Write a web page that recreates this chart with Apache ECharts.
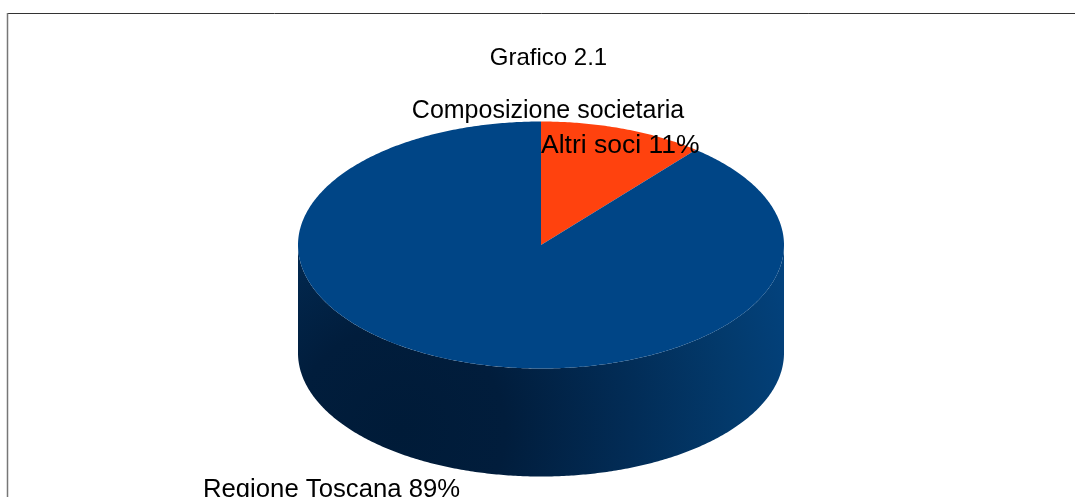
<!DOCTYPE html>
<html>
<head>
<meta charset="utf-8">
<style>html,body{margin:0;padding:0;background:#fff}#c{width:1075px;height:497px}</style>
<script src="https://cdn.jsdelivr.net/npm/echarts@6/dist/echarts.min.js"></script>
</head>
<body>
<div id="c"></div>
<script>
var titleText = "Grafico 2.1";
var subtitleText = "Composizione societaria";
var categories = ["Altri soci", "Regione Toscana"];
var shares = [11, 89];
var colors = ["#ff420e", "#004586"];
var labelAnchors = [[541, 146], [203, 490]];
var labelSizes = [26.5, 25.7];

var cx = 541, cy = 245, rx = 243, ry = 123.5, depth = 108;
var total = shares.reduce(function (a, b) { return a + b; }, 0);

function pt(angle, dy) {
  return [cx + rx * Math.sin(angle), cy - ry * Math.cos(angle) + (dy || 0)];
}
function arc(a0, a1, dy) {
  var pts = [], n = Math.max(2, Math.ceil(Math.abs(a1 - a0) / 0.01));
  for (var i = 0; i <= n; i++) pts.push(pt(a0 + (a1 - a0) * i / n, dy));
  return pts;
}
function sliceAngles(i) {
  var before = 0;
  for (var k = 0; k < i; k++) before += shares[k];
  return [before / total * 2 * Math.PI, (before + shares[i]) / total * 2 * Math.PI];
}
var sideGradient = {
  type: "radial", x: 400, y: 430, r: 420, global: true,
  colorStops: [
    { offset: 0, color: "#001b38" },
    { offset: 0.25, color: "#011d3c" },
    { offset: 0.55, color: "#022c56" },
    { offset: 0.8, color: "#033a6c" },
    { offset: 1, color: "#03437f" }
  ]
};

function renderSlice(params, api) {
  var i = params.dataIndex;
  var a = sliceAngles(i);
  var children = [];
  // visible front wall: the part of the slice between 90 and 270 degrees
  var lo = Math.max(a[0], Math.PI / 2), hi = Math.min(a[1], 3 * Math.PI / 2);
  if (hi > lo) {
    var top = arc(lo, hi, 0), bottom = arc(hi, lo, depth);
    children.push({
      type: "polygon", z2: 1,
      shape: { points: top.concat(bottom) },
      style: { fill: sideGradient }
    });
  }
  children.push({
    type: "polygon", z2: 2,
    shape: { points: [[cx, cy]].concat(arc(a[0], a[1], 0)) },
    style: { fill: colors[i] }
  });
  return { type: "group", children: children };
}
function renderLabel(params, api) {
  var i = params.dataIndex;
  return {
    type: "text", z2: 10,
    style: {
      x: labelAnchors[i][0], y: labelAnchors[i][1],
      text: categories[i] + " " + shares[i] + "%",
      font: labelSizes[i] + "px 'Liberation Sans'", fill: "#000",
      textAlign: "left", textVerticalAlign: "middle"
    }
  };
}

var chart = echarts.init(document.getElementById("c"), null, { renderer: "canvas" });
chart.setOption({
  animation: false,
  backgroundColor: "#fff",
  title: [
    { text: titleText, left: 543.5, top: 41, textAlign: "center",
      textStyle: { fontFamily: "Liberation Sans", fontSize: 24, fontWeight: "normal", color: "#000" } },
    { text: subtitleText, left: 543, top: 94, textAlign: "center",
      textStyle: { fontFamily: "Liberation Sans", fontSize: 25, fontWeight: "normal", color: "#000" } }
  ],
  graphic: [
    { type: "line", z: 50, shape: { x1: 7.5, y1: 13.5, x2: 1075, y2: 13.5 }, style: { stroke: "#333", lineWidth: 1 } },
    { type: "line", z: 50, shape: { x1: 7.5, y1: 13, x2: 7.5, y2: 497 }, style: { stroke: "#777", lineWidth: 1.5 } }
  ],
  series: [
    { type: "custom", coordinateSystem: "none", silent: true, z: 2, renderItem: renderSlice,
      data: shares.map(function (v, i) { return { name: categories[i], value: v }; }) },
    { type: "custom", coordinateSystem: "none", silent: true, z: 5, renderItem: renderLabel,
      data: shares.map(function (v, i) { return { name: categories[i], value: v }; }) }
  ]
});
</script>
</body>
</html>
